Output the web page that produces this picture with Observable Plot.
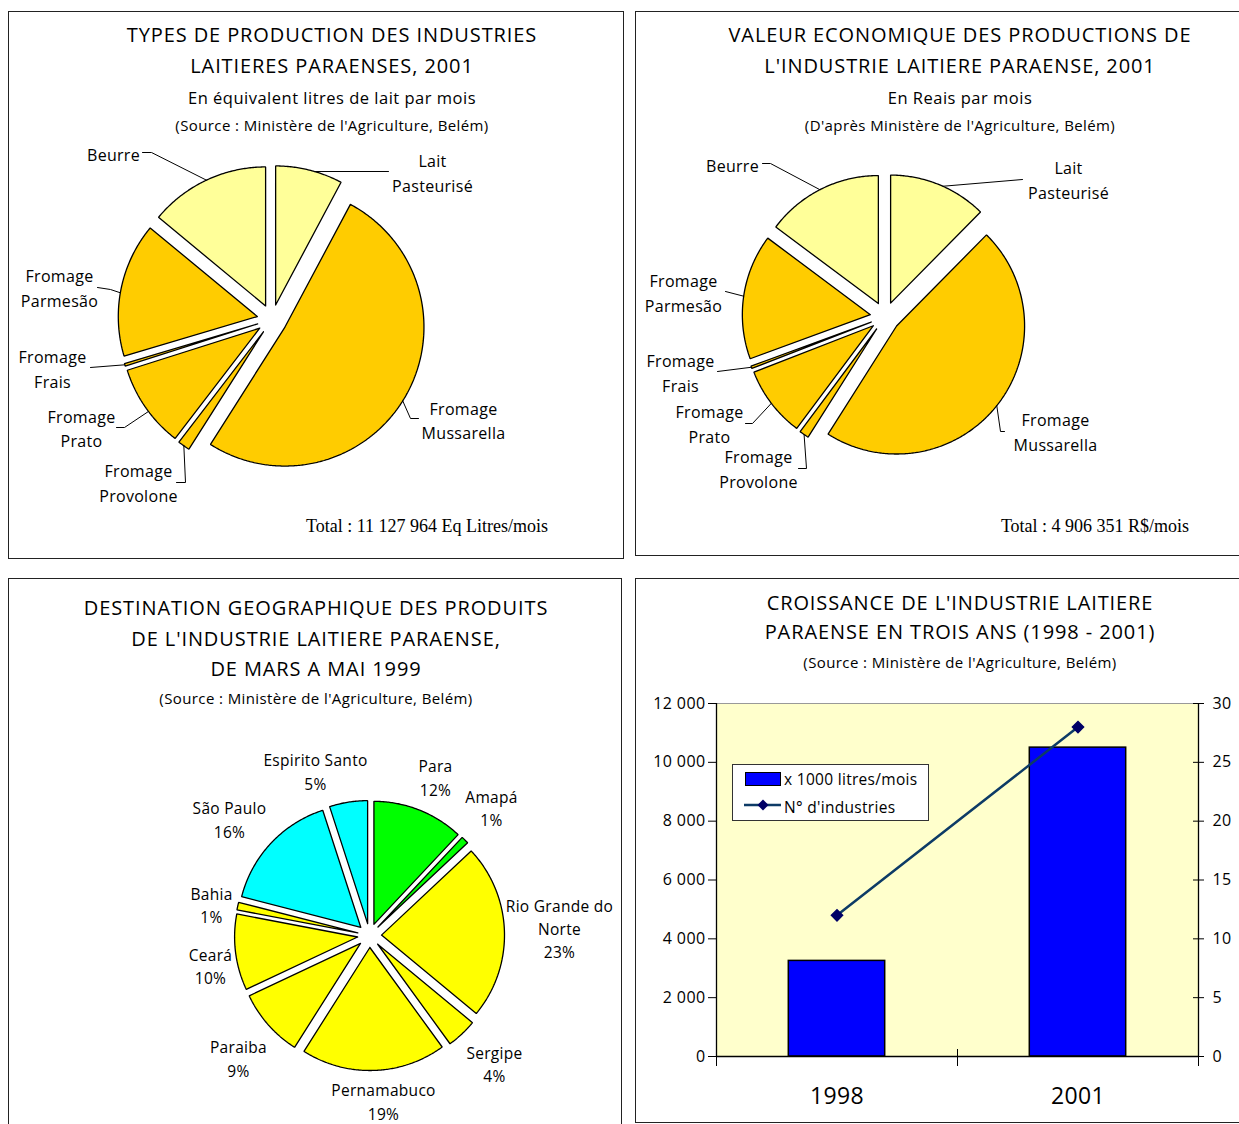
<!DOCTYPE html>
<html><head><meta charset="utf-8">
<script src="https://cdn.jsdelivr.net/npm/d3@7"></script>
<script src="https://cdn.jsdelivr.net/npm/@observablehq/plot@0.6"></script>
<style>
body{margin:0;background:#fff;width:1239px;height:1124px;overflow:hidden;position:relative;font-family:"Open Sans",sans-serif;}
.panel{position:absolute;border:1.5px solid #222;box-sizing:border-box;background:#fff;}
.layer{position:absolute;}
.t{position:absolute;white-space:nowrap;transform:translate(-50%,-50%);color:#000;line-height:1;}
.leg{position:absolute;border:1px solid #333;background:#fff;box-sizing:border-box;font-size:15.5px;letter-spacing:0.3px;}
</style></head><body>
<script>
// ---------- DATA ----------
// Chart 1: types de production (équivalent litres de lait par mois)
const prodCategories = ["Lait Pasteurisé","Fromage Mussarella","Fromage Provolone","Fromage Prato","Fromage Frais","Fromage Parmesão","Beurre"];
const prodVolume = [868000, 5697000, 156000, 1079000, 33000, 1736000, 1558000];
const prodTotal = 11127964;
// Chart 2: valeur économique (R$ par mois)
const valCategories = prodCategories;
const valReais = [608000, 2286000, 59000, 437000, 15000, 775000, 726000];
const valTotal = 4906351;
const prodColors = ["#ffff99","#ffcc00","#ffcc00","#ffcc00","#ffcc00","#ffcc00","#ffff99"];
// Chart 3: destination géographique (%)
const destStates = ["Para","Amapá","Rio Grande do Norte","Sergipe","Pernamabuco","Paraiba","Ceará","Bahia","São Paulo","Espirito Santo"];
const destPct = [12, 1, 23, 4, 19, 9, 10, 1, 16, 5];
const destColors = ["#00ff00","#00ff00","#ffff00","#ffff00","#ffff00","#ffff00","#ffff00","#ffff00","#00ffff","#00ffff"];
// Chart 4: croissance
const growthYears = ["1998","2001"];
const growthLitres = [3250, 10500];   // x 1000 litres/mois
const growthIndustries = [12, 28];    // N° d'industries
const leftTicks = [0,2000,4000,6000,8000,10000,12000];

// ---------- LAYOUT ----------
const FONT = '"Open Sans", sans-serif';
const panels = [
  {left:8, top:11, w:616, h:548},
  {left:635, top:11, w:620, h:545},
  {left:8, top:578, w:614, h:560},
  {left:635, top:578, w:620, h:545}
];
panels.forEach(p=>{
  const d=document.createElement("div");d.className="panel";
  Object.assign(d.style,{left:p.left+"px",top:p.top+"px",width:p.w+"px",height:p.h+"px"});
  document.body.appendChild(d);
});
function text(str,x,y,size,extra={}){
  const d=document.createElement("div");d.className="t";d.textContent=str;
  Object.assign(d.style,{left:x+"px",top:y+"px",fontSize:size+"px"},extra);
  d.style.zIndex=5;
  document.body.appendChild(d);
}
const T={ls:"0.9px",f:20}, S={ls:"0.5px",f:16.5}, R={ls:"0.4px",f:15};
const titles=[
  ["TYPES DE PRODUCTION DES INDUSTRIES",332,35,T],["LAITIERES PARAENSES, 2001",332,66,T],
  ["En équivalent litres de lait par mois",332,98,S],["(Source : Ministère de l'Agriculture, Belém)",332,125,R],
  ["VALEUR ECONOMIQUE DES PRODUCTIONS DE",960,35,T],["L'INDUSTRIE LAITIERE PARAENSE, 2001",960,66,T],
  ["En Reais par mois",960,98,S],["(D'après Ministère de l'Agriculture, Belém)",960,125,R],
  ["DESTINATION GEOGRAPHIQUE DES PRODUITS",316,608,T],["DE L'INDUSTRIE LAITIERE PARAENSE,",316,639,T],
  ["DE MARS A MAI 1999",316,669,T],["(Source : Ministère de l'Agriculture, Belém)",316,698,R],
  ["CROISSANCE DE L'INDUSTRIE LAITIERE",960,603,T],["PARAENSE EN TROIS ANS (1998 - 2001)",960,632,T],
  ["(Source : Ministère de l'Agriculture, Belém)",960,662,R]
];
titles.forEach(([s,x,y,o])=>text(s,x,y,o.f,{letterSpacing:o.ls}));
const fmtSpace = v => d3.format(",")(v).replace(/,/g," ");
const serif = {fontFamily:'"Liberation Serif", "Times New Roman", serif'};
text("Total : "+fmtSpace(prodTotal)+" Eq Litres/mois",427,526,18,serif);
text("Total : "+fmtSpace(valTotal)+" R$/mois",1095,526,18,serif);

function place(svg,left,top){
  const wrap=document.createElement("div");wrap.className="layer";
  Object.assign(wrap.style,{left:left+"px",top:top+"px",zIndex:3});
  wrap.appendChild(svg);document.body.appendChild(wrap);
}

// Pie builder: exploded slices drawn as filled closed lines in page coordinates
function piePlot({box, values, colors, cx, cy, r, explode, labels, labelPos, leaders, fontSize, lineHeight}){
  const arcs=d3.pie().sort(null).value(d=>d)(values);
  const pts=[], lead=[];
  const geo=arcs.map((a,i)=>{
    const mid=(a.startAngle+a.endAngle)/2;
    return {a, ox:cx+explode*Math.sin(mid), oy:cy-explode*Math.cos(mid)};
  });
  geo.forEach(({a,ox,oy},i)=>{
    pts.push({id:i,x:ox,y:oy,c:colors[i]});
    const n=Math.max(2,Math.ceil((a.endAngle-a.startAngle)/0.01));
    for(let k=0;k<=n;k++){const t=a.startAngle+(a.endAngle-a.startAngle)*k/n;pts.push({id:i,x:ox+r*Math.sin(t),y:oy-r*Math.cos(t),c:colors[i]});}
    pts.push({id:i,x:ox,y:oy,c:colors[i]});
  });
  (leaders||[]).forEach((L,j)=>{
    if(!L) return;
    const {a,ox,oy}=geo[j];
    const t=a.startAngle+(a.endAngle-a.startAngle)*L.f;
    lead.push({id:j,x:ox+r*Math.sin(t),y:oy-r*Math.cos(t)});
    L.p.forEach(([x,y])=>lead.push({id:j,x,y}));
  });
  const lab=labels.map((s,i)=>({s,x:labelPos[i][0],y:labelPos[i][1]}));
  return Plot.plot({
    width:box.w,height:box.h,margin:0,
    x:{domain:[box.left,box.left+box.w],axis:null},
    y:{domain:[box.top+box.h,box.top],axis:null},
    color:{type:"identity"},
    style:{background:"transparent",fontFamily:FONT,overflow:"visible",letterSpacing:"0.3px"},
    marks:[
      Plot.line(pts,{x:"x",y:"y",z:"id",fill:"c",stroke:"#000",strokeWidth:1.3,strokeLinejoin:"miter"}),
      Plot.line(lead,{x:"x",y:"y",z:"id",stroke:"#000",strokeWidth:1}),
      Plot.text(lab,{x:"x",y:"y",text:"s",fontSize,lineHeight,textAnchor:"middle",lineAnchor:"middle",fill:"#000"})
    ]
  });
}
const pieBoxTop={left:8,top:11,w:616,h:548};
const prodLabelText = prodCategories.map(s=>s.replace("Fromage ","Fromage\n").replace("Lait ","Lait\n"));
place(piePlot({
  box:pieBoxTop, values:prodVolume, colors:prodColors, cx:271.5, cy:319, r:139, explode:15,
  labels:prodLabelText,
  labelPos:[[432,171],[463,418.5],[138,481],[81,426.5],[52,367],[59,286],[113,153]],
  leaders:[{f:0.58,p:[[388,171]]},{f:0.51,p:[[410,418],[418,418]]},{f:0.5,p:[[185,482],[176,482]]},
           {f:0.45,p:[[124,427],[116,427]]},{f:0.5,p:[[90,367]]},{f:0.47,p:[[110,289],[97,287]]},{f:0.5,p:[[151,152],[142,152]]}],
  fontSize:16, lineHeight:1.55
}),8,11);

const pieBoxTR={left:635,top:11,w:604,h:545};
place(piePlot({
  box:pieBoxTR, values:valReais, colors:prodColors, cx:884.5, cy:316.3, r:128, explode:14.8,
  labels:valCategories.map(s=>s.replace("Fromage ","Fromage\n").replace("Lait ","Lait\n")),
  labelPos:[[1068,178],[1055,430],[758,467],[709,422],[680,371],[683,291],[732,163]],
  leaders:[{f:0.54,p:[[1022,179]]},{f:0.5,p:[[1000,431],[1004,431]]},{f:0.5,p:[[806,468],[798,468]]},
           {f:0.5,p:[[752,423],[745,423]]},{f:0.5,p:[[717,371]]},{f:0.5,p:[[725,291]]},{f:0.49,p:[[770,163],[762,163]]}],
  fontSize:16, lineHeight:1.6
}),635,11);

const pieBoxBL={left:8,top:578,w:614,h:546};
place(piePlot({
  box:pieBoxBL, values:destPct, colors:destColors, cx:369, cy:935, r:123, explode:12,
  labels:destStates.map((s,i)=>s.replace("Grande do ","Grande do\n")+"\n"+destPct[i]+"%"),
  labelPos:[[435,776],[491,806.5],[559,927],[494,1062.5],[383,1100],[238,1057],[210,964.5],[211,903.5],[229,818],[315,770]],
  leaders:[], fontSize:15.5, lineHeight:1.5
}),8,578);

// ---------- Chart 4 ----------
const growth = growthYears.map((y,i)=>({year:y,i,litres:growthLitres[i],industries:growthIndustries[i]}));
const k = 12000/30; // right axis (0–30) onto left axis (0–12 000)
const pxX = 2/482, pxY = 12000/353; // one pixel in data units (for small crossing tick marks)
const chart4 = Plot.plot({
  width:604,height:545,marginLeft:81,marginRight:41,marginTop:125,marginBottom:67,
  style:{background:"transparent",fontFamily:FONT,fontSize:"16px",overflow:"visible",color:"#000",letterSpacing:"0.4px"},
  x:{type:"linear",domain:[0,2],axis:null},
  y:{domain:[0,12000],axis:null},
  marks:[
    Plot.frame({fill:"#ffffcc",stroke:"#999"}),
    Plot.rectY(growth,{x1:d=>d.i+0.3,x2:d=>d.i+0.7,y:"litres",fill:"#0000ff",stroke:"#000",strokeWidth:1.5}),
    Plot.ruleX([0,2],{stroke:"#000",strokeWidth:1.3}),
    Plot.ruleY([0],{stroke:"#000",strokeWidth:1.5}),
    Plot.ruleY(leftTicks,{x1:2-5*pxX,x2:2,stroke:"#000"}),
    Plot.ruleX([0,1,2],{y1:0,y2:7*pxY,stroke:"#000"}),
    Plot.axisY({anchor:"left",label:null,ticks:leftTicks,tickSize:8,tickPadding:3,tickFormat:fmtSpace,fontSize:16}),
    Plot.axisY({anchor:"right",label:null,ticks:leftTicks,tickSize:5,tickPadding:9,tickFormat:d=>d/k,fontSize:16}),
    Plot.axisX({label:null,ticks:[0,1,2],tickSize:10,tickFormat:()=>""}),
    Plot.axisX({label:null,ticks:[0.5,1.5],tickSize:0,tickPadding:31,tickFormat:d=>growthYears[Math.floor(d)],fontSize:23}),
    Plot.line(growth,{x:d=>d.i+0.5,y:d=>d.industries*k,stroke:"#0d3b66",strokeWidth:2.5}),
    Plot.dot(growth,{x:d=>d.i+0.5,y:d=>d.industries*k,symbol:"diamond2",fill:"#000066",stroke:"#000066",r:5})
  ]
});
place(chart4,635,578);

// legend
const leg=document.createElement("div");leg.className="leg";
Object.assign(leg.style,{left:"732px",top:"764px",width:"197px",height:"57px",zIndex:6});
leg.innerHTML=`<div style="position:absolute;left:12px;top:7px;width:34px;height:12px;background:#0000ff;border:1.5px solid #000"></div>
<div style="position:absolute;left:51px;top:3px;white-space:nowrap">x 1000 litres/mois</div>
<svg style="position:absolute;left:10px;top:33px" width="40" height="14"><line x1="1" y1="7" x2="38" y2="7" stroke="#0d3b66" stroke-width="2.5"/><path d="M20,1.5L25.5,7L20,12.5L14.5,7Z" fill="#000066"/></svg>
<div style="position:absolute;left:51px;top:31px;white-space:nowrap">N° d'industries</div>`;
document.body.appendChild(leg);
</script>
</body></html>
